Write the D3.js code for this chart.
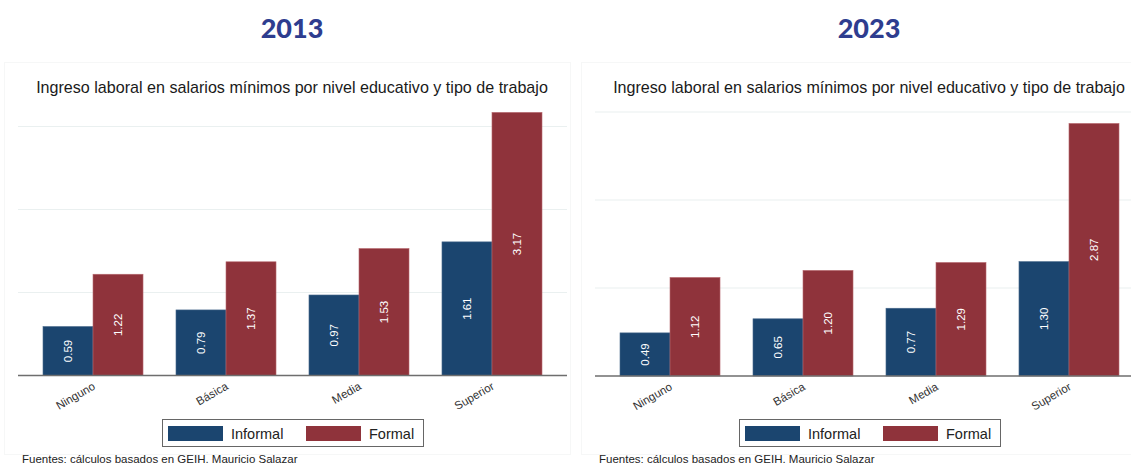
<!DOCTYPE html>
<html>
<head>
<meta charset="utf-8">
<script src="https://cdn.jsdelivr.net/npm/d3@7"></script>
<style>
  html, body { margin: 0; padding: 0; background: #fff; }
  svg { display: block; }
  text { font-family: "Liberation Sans", Arial, sans-serif; }
</style>
</head>
<body>
<svg id="chart" width="1131" height="465"></svg>
<script>
// Education levels on the x axis
const categories = ["Ninguno", "Básica", "Media", "Superior"];
// Type of job (legend entries)
const seriesNames = ["Informal", "Formal"];
// Labour income in minimum wages, 2013
const informal2013 = [0.59, 0.79, 0.97, 1.61];
const formal2013   = [1.22, 1.37, 1.53, 3.17];
// Labour income in minimum wages, 2023
const informal2023 = [0.49, 0.65, 0.77, 1.30];
const formal2023   = [1.12, 1.20, 1.29, 2.87];
// Horizontal grid values
const gridTicks = [1, 2, 3];

const chartTitle = "Ingreso laboral en salarios mínimos por nivel educativo y tipo de trabajo";
const sourceNote = "Fuentes: cálculos basados en GEIH. Mauricio Salazar";

const colors = { Informal: "#1b456f", Formal: "#8f333b" };
const svg = d3.select("#chart");

const panels = [
  { year: "2013", informal: informal2013, formal: formal2013,
    ox: 0, plotX0: 18, baseY: 375.5, topY: 126.5, frameX: 4, frameW: 566 },
  { year: "2023", informal: informal2023, formal: formal2023,
    ox: 577, plotX0: 18, baseY: 376, topY: 112, frameX: 4, frameW: 560 }
];

panels.forEach(p => {
  const g = svg.append("g").attr("transform", `translate(${p.ox},0)`);
  const plotW = 549;

  // faint panel frame
  g.append("rect")
    .attr("x", p.frameX + 0.5).attr("y", 62.5)
    .attr("width", p.frameW).attr("height", 392)
    .attr("fill", "none").attr("stroke", "#f6f7f7").attr("stroke-width", 1);

  // year heading
  g.append("text")
    .attr("x", 292).attr("y", 38)
    .attr("text-anchor", "middle")
    .style("font-family", "Lato, 'Open Sans', sans-serif")
    .style("font-weight", 900)
    .style("font-size", "27px")
    .attr("fill", "#2e3d8f")
    .text(p.year);

  // chart title
  g.append("text")
    .attr("x", 292).attr("y", 93)
    .attr("text-anchor", "middle")
    .style("font-size", "16.1px")
    .attr("fill", "#1a1a1a")
    .text(chartTitle);

  const x = d3.scaleBand()
    .domain(categories)
    .range([p.plotX0, p.plotX0 + plotW])
    .paddingInner(0.248)
    .paddingOuter(0.188);

  const xs = d3.scaleBand()
    .domain(seriesNames)
    .range([0, x.bandwidth()]);

  const y = d3.scaleLinear()
    .domain([0, 3])
    .range([p.baseY, p.topY]);

  // grid lines
  g.append("g").selectAll("line")
    .data(gridTicks)
    .join("line")
    .attr("x1", p.plotX0).attr("x2", p.plotX0 + plotW)
    .attr("y1", d => y(d)).attr("y2", d => y(d))
    .attr("stroke", "#eaf0f0").attr("stroke-width", 1.2);

  const rows = categories.map((c, i) => ({
    cat: c,
    vals: [
      { s: "Informal", v: p.informal[i] },
      { s: "Formal", v: p.formal[i] }
    ]
  }));

  const groups = g.append("g").selectAll("g")
    .data(rows)
    .join("g")
    .attr("transform", d => `translate(${x(d.cat)},0)`);

  groups.selectAll("rect")
    .data(d => d.vals)
    .join("rect")
    .attr("x", d => xs(d.s))
    .attr("y", d => y(d.v))
    .attr("width", xs.bandwidth())
    .attr("height", d => y(0) - y(d.v))
    .attr("fill", d => colors[d.s])
    .attr("stroke", d => d.s === "Formal" ? "#b86a70" : "#4a6a8c")
    .attr("stroke-width", 0.6);

  // value labels, centred inside each bar
  groups.selectAll("text")
    .data(d => d.vals)
    .join("text")
    .attr("transform", d =>
      `translate(${xs(d.s) + xs.bandwidth() / 2 + 4},${(y(d.v) + y(0)) / 2}) rotate(-90)`)
    .attr("text-anchor", "middle")
    .style("font-size", "11.5px")
    .attr("fill", "#ffffff")
    .text(d => d3.format(".2f")(d.v));

  // x axis
  const axis = g.append("g")
    .attr("transform", `translate(0,${p.baseY})`)
    .call(d3.axisBottom(x).tickSize(0).tickPadding(0));
  axis.select(".domain")
    .attr("stroke", "#6e6e6e").attr("stroke-width", 1.4)
    .attr("d", `M${p.plotX0},0H${p.plotX0 + plotW}`);
  axis.selectAll(".tick text")
    .attr("text-anchor", "end")
    .attr("dy", 0).attr("y", 0)
    .attr("transform", "translate(3,13) rotate(-30)")
    .style("font-family", "'Liberation Sans', Arial, sans-serif")
    .style("font-size", "11.5px")
    .attr("fill", "#333");

  // legend
  const lg = g.append("g").attr("transform", "translate(162,419)");
  lg.append("rect")
    .attr("x", 0.5).attr("y", 0.5).attr("width", 261).attr("height", 27)
    .attr("fill", "#fff").attr("stroke", "#666").attr("stroke-width", 1);
  const items = lg.selectAll("g.item")
    .data(seriesNames)
    .join("g")
    .attr("class", "item")
    .attr("transform", (d, i) => `translate(${6 + i * 138},7)`);
  items.append("rect")
    .attr("width", 55).attr("height", 15)
    .attr("fill", d => colors[d]);
  items.append("text")
    .attr("x", 63).attr("y", 13)
    .style("font-size", "14.5px")
    .attr("fill", "#222")
    .text(d => d);

  // source note
  g.append("text")
    .attr("x", 22).attr("y", 463)
    .style("font-size", "11.5px")
    .attr("fill", "#222")
    .text(sourceNote);
});
</script>
</body>
</html>
